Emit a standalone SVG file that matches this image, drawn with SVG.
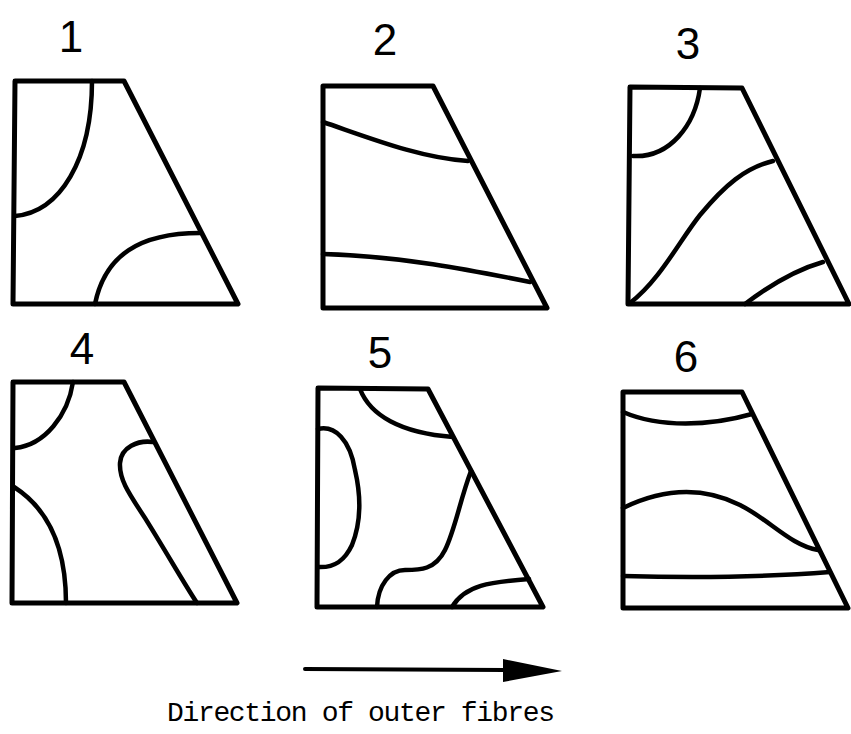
<svg xmlns="http://www.w3.org/2000/svg" width="851" height="734" viewBox="0 0 851 734">
<style>
.o{fill:none;stroke:#000;stroke-width:5;stroke-linejoin:round}
.c{fill:none;stroke:#000;stroke-width:4.5;stroke-linecap:round}
.n{font-family:"Liberation Sans",Arial,sans-serif;font-size:44px;fill:#000;text-anchor:middle}
.t{font-family:"Liberation Mono","Courier New",monospace;font-size:28px;fill:#000}
</style>
<rect width="851" height="734" fill="#fff"/>
<g id="panel1">
<text class="n" x="71" y="52">1</text>
<path class="o" d="M15,81 L124,81 L238,304 L13,304 Z"/>
<path class="c" d="M92,81 C92,160 60,212 15,216"/>
<path class="c" d="M95,304 C105,255 140,233 200,233"/>
</g>
<g id="panel2">
<text class="n" x="385" y="55">2</text>
<path class="o" d="M323,86 L433,86 L547,308 L323,308 Z"/>
<path class="c" d="M323,122 C370,138 420,158 468,161"/>
<path class="c" d="M323,254 C400,256 470,270 530,282"/>
</g>
<g id="panel3">
<text class="n" x="688" y="59">3</text>
<path class="o" d="M630,87 L742,88 L849,304 L628,304 Z"/>
<path class="c" d="M700,88 C695,125 670,158 633,156"/>
<path class="c" d="M630,303 C660,280 680,240 700,215 C725,185 745,168 773,161"/>
<path class="c" d="M745,304 C770,285 795,270 823,262"/>
</g>
<g id="panel4">
<text class="n" x="82" y="364">4</text>
<path class="o" d="M13,382 L124,382 L237,603 L12,603 Z"/>
<path class="c" d="M73,382 C68,415 45,445 15,448"/>
<path class="c" d="M14,487 C50,510 66,550 66,603"/>
<path class="c" d="M153,442 C138,440 121,447 120,463 C119,480 130,495 145,518 C165,550 185,585 197,603"/>
</g>
<g id="panel5">
<text class="n" x="380" y="368">5</text>
<path class="o" d="M318,388 L428,389 L543,607 L317,607 Z"/>
<path class="c" d="M360,389 C370,415 400,433 453,437"/>
<path class="c" d="M318,429 C335,425 350,440 355,470 C362,500 360,525 352,545 C345,560 335,568 318,567"/>
<path class="c" d="M471,471 C460,500 455,530 445,550 C435,570 420,570 405,570 C390,570 378,585 377,607"/>
<path class="c" d="M452,607 C465,585 490,582 529,579"/>
</g>
<g id="panel6">
<text class="n" x="686" y="372">6</text>
<path class="o" d="M623,392 L742,392 L848,608 L623,608 Z"/>
<path class="c" d="M623,412 C660,428 710,426 752,414"/>
<path class="c" d="M623,508 C660,490 700,485 740,505 C770,520 790,545 818,550"/>
<path class="c" d="M623,576 C700,578 780,576 830,572"/>
</g>
<g id="connectors">
<line x1="305" y1="669" x2="505" y2="670" stroke="#000" stroke-width="4" stroke-linecap="round"/>
<path d="M503,659 L562,671 L503,682 Z" fill="#000"/>
</g>
<text class="t" x="167" y="721" textLength="388" lengthAdjust="spacing">Direction of outer fibres</text>
</svg>
